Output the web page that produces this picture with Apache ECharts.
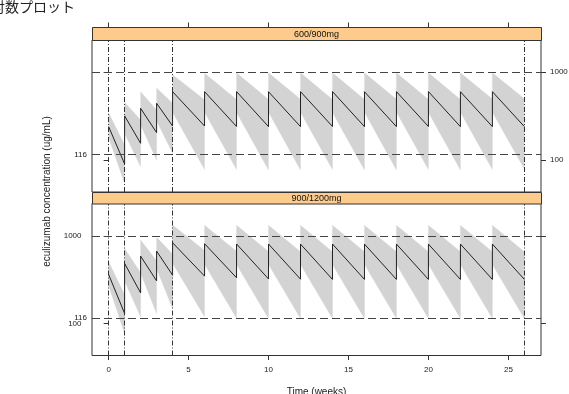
<!DOCTYPE html>
<html><head><meta charset="utf-8">
<script src="https://cdn.jsdelivr.net/npm/echarts@6/dist/echarts.min.js"></script>
<style>html,body{margin:0;padding:0;background:#fff}#c{width:569px;height:394px}</style>
</head><body><div id="c"></div>
<script>
// ---- data ----
const titleText = '対数プロット';
const panelLabels = ['600/900mg', '900/1200mg'];
const xTitle = 'Time (weeks)';
const yTitle = 'eculizumab concentration (ug/mL)';
const xTicks = [0, 5, 10, 15, 20, 25];
const yTicks = [100, 1000];
const refConc = [1000, 116];
const refConcLabel = '116';
const refWeeks = [0, 1, 4, 26];

const cycleStart = [0, 1, 2, 3, 4, 6, 8, 10, 12, 14, 16, 18, 20, 22, 24];
const cycleEnd   = [1, 2, 3, 4, 6, 8, 10, 12, 14, 16, 18, 20, 22, 24, 26];

// 600/900mg
const medPeakA   = [240, 318, 388, 443, 601, 601, 602, 600, 601, 602, 600, 601, 602, 600, 601];
const medTroughA = [90, 155, 205, 244, 244, 241, 240, 240, 241, 240, 240, 241, 240, 240, 240];
const upPeakA    = [345, 455, 600, 660, 935, 975, 985, 985, 985, 985, 985, 985, 985, 985, 985];
const upTroughA  = [148, 286, 371, 443, 485, 490, 490, 492, 490, 490, 492, 490, 490, 495, 500];
const loPeakA    = [180, 200, 250, 280, 350, 350, 348, 350, 350, 348, 350, 350, 348, 350, 350];
const loTroughA  = [54, 84, 100, 119, 78, 78, 77, 77, 78, 77, 77, 78, 77, 78, 79];

// 900/1200mg
const medPeakB   = [362, 484, 586, 668, 832, 812, 806, 805, 804, 805, 804, 805, 804, 805, 804];
const medTroughB = [130, 223, 306, 356, 347, 332, 322, 320, 318, 318, 318, 318, 318, 318, 318];
const upPeakB    = [505, 718, 893, 959, 1325, 1320, 1318, 1320, 1318, 1320, 1318, 1320, 1318, 1320, 1318];
const upTroughB  = [213, 380, 520, 620, 680, 665, 660, 656, 656, 656, 656, 656, 656, 656, 656];
const loPeakB    = [270, 305, 375, 420, 485, 475, 470, 470, 470, 470, 470, 470, 470, 470, 470];
const loTroughB  = [77, 119, 130, 148, 119, 115, 114, 114, 114, 114, 114, 114, 114, 114, 114];

// ---- build ----
function medianPts(pk, tr) {
  const out = [];
  for (let i = 0; i < cycleStart.length; i++) {
    out.push([cycleStart[i], pk[i]]);
    out.push([cycleEnd[i], tr[i]]);
  }
  return out;
}
function bandRows(up0, up1, lo0, lo1) {
  return cycleStart.map((s, i) => [s, cycleEnd[i], up0[i], up1[i], lo0[i], lo1[i]]);
}

const LX = 92, W = 449, PH = 152;
const P1T = 40, S1T = 27, P2T = 203.5, S2T = 192;
const XMIN = -1.04, XMAX = 27.04, YMIN = 43.15, YMAX = 2333;
const ink = '#333';
const fontFam = '"Liberation Sans", Arial, sans-serif';

function xAx(grid, pos, labels) {
  return {
    type: 'value', gridIndex: grid, position: pos, min: XMIN, max: XMAX,
    offset: pos === 'top' ? 13 : 0,
    axisLine: { show: false },
    splitLine: { show: false },
    axisTick: { show: true, length: 4.5, customValues: xTicks, lineStyle: { color: ink, width: 1 } },
    axisLabel: { show: labels, customValues: xTicks, fontSize: 8, color: '#222', margin: 10, fontFamily: fontFam },
    name: labels ? xTitle : '', nameLocation: 'middle', nameGap: 32,
    nameTextStyle: { fontSize: 10, color: '#222', fontFamily: fontFam }
  };
}
function yAx(grid, pos, labels) {
  return {
    type: 'log', logBase: 10, gridIndex: grid, position: pos, min: YMIN, max: YMAX,
    axisLine: { show: false },
    splitLine: { show: false },
    minorTick: { show: false },
    axisTick: { show: true, length: 5, customValues: yTicks, lineStyle: { color: ink, width: 1 } },
    axisLabel: { show: labels, customValues: yTicks, fontSize: 8, color: '#222', margin: pos === 'left' ? 10.5 : 9, fontFamily: fontFam,
      formatter: v => String(Math.round(v)) }
  };
}
function refLines() {
  const data = [];
  refConc.forEach(v => {
    const isLab = Math.abs(v - 116) < 1;
    data.push({ yAxis: v, lineStyle: { type: [8, 4], color: '#444', width: 1 },
      label: isLab ? { show: true, position: 'start', formatter: refConcLabel, fontSize: 8, color: '#222', distance: 5, fontFamily: fontFam } : { show: false } });
  });
  refWeeks.forEach(t => {
    data.push({ xAxis: t, lineStyle: { type: [5, 2, 1, 2], color: '#333', width: 1 }, label: { show: false } });
  });
  return { silent: true, symbol: ['none', 'none'], animation: false, data };
}
function bandSeries(xi, yi, rows) {
  return {
    type: 'custom', xAxisIndex: xi, yAxisIndex: yi, z: 1, silent: true,
    encode: { x: [0, 1], y: [2, 3, 4, 5] },
    data: rows,
    renderItem: (params, api) => {
      const t0 = api.value(0), t1 = api.value(1);
      const pts = [api.coord([t0, api.value(2)]), api.coord([t1, api.value(3)]),
                   api.coord([t1, api.value(5)]), api.coord([t0, api.value(4)])];
      return { type: 'polygon', shape: { points: pts }, style: { fill: '#d3d3d3', stroke: '#d3d3d3', lineWidth: 0.3 } };
    }
  };
}
function medSeries(xi, yi, pts) {
  return {
    type: 'line', xAxisIndex: xi, yAxisIndex: yi, z: 3, silent: true,
    data: pts, showSymbol: false, symbol: 'none',
    lineStyle: { color: '#222', width: 1 },
    markLine: refLines()
  };
}

const chart = echarts.init(document.getElementById('c'), null, { renderer: 'canvas' });
chart.setOption({
  animation: false,
  backgroundColor: '#fff',
  grid: [
    { left: LX, top: P1T, width: W, height: PH, show: true, borderColor: ink, borderWidth: 1, backgroundColor: 'transparent', containLabel: false, outerBoundsMode: 'none' },
    { left: LX, top: P2T, width: W, height: PH, show: true, borderColor: ink, borderWidth: 1, backgroundColor: 'transparent', containLabel: false, outerBoundsMode: 'none' }
  ],
  xAxis: [xAx(0, 'top', false), xAx(1, 'bottom', true)],
  yAxis: [yAx(0, 'left', false), yAx(0, 'right', true), yAx(1, 'left', true), yAx(1, 'right', false)],
  series: [
    bandSeries(0, 0, bandRows(upPeakA, upTroughA, loPeakA, loTroughA)),
    medSeries(0, 0, medianPts(medPeakA, medTroughA)),
    bandSeries(1, 2, bandRows(upPeakB, upTroughB, loPeakB, loTroughB)),
    medSeries(1, 2, medianPts(medPeakB, medTroughB))
  ],
  graphic: [
    { type: 'rect', shape: { x: LX + 0.5, y: S1T + 0.5, width: W, height: P1T - S1T }, style: { fill: '#fdcc8c', stroke: ink, lineWidth: 1 }, z: 10 },
    { type: 'text', x: LX + W / 2, y: S1T + 8, style: { text: panelLabels[0], textAlign: 'center', textVerticalAlign: 'middle', fontSize: 9, fontFamily: fontFam, fill: '#111' }, z: 11 },
    { type: 'rect', shape: { x: LX + 0.5, y: S2T + 0.5, width: W, height: P2T - S2T }, style: { fill: '#fdcc8c', stroke: ink, lineWidth: 1 }, z: 10 },
    { type: 'text', x: LX + W / 2, y: S2T + 6.5, style: { text: panelLabels[1], textAlign: 'center', textVerticalAlign: 'middle', fontSize: 9, fontFamily: fontFam, fill: '#111' }, z: 11 },
    { type: 'text', x: -9, y: 0, style: { text: titleText, fontSize: 14, fontFamily: '"Noto Sans CJK JP", sans-serif', fill: '#222', textVerticalAlign: 'top' } },
    { type: 'text', x: 47, y: 191.5, rotation: Math.PI / 2, style: { text: yTitle, textAlign: 'center', textVerticalAlign: 'middle', fontSize: 10, fontFamily: fontFam, fill: '#222' } }
  ]
});
</script></body></html>
